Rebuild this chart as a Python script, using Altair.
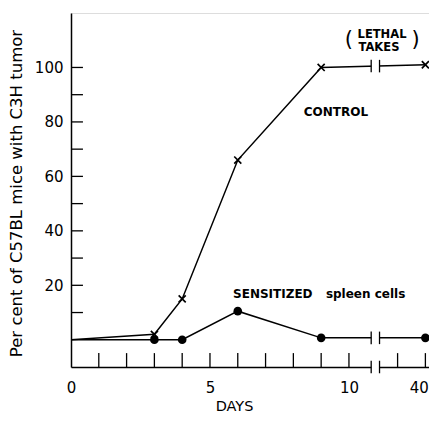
import altair as alt
import pandas as pd

# ---- data ----
control_days = [0, 3, 4, 6, 9, 40]
control_pct = [0, 2, 15, 66, 100, 101]
sens_days = [0, 3, 4, 6, 9, 40]
sens_pct = [0, 0, 0, 10.5, 0.7, 0.7]
x_tick_days = [1, 2, 3, 4, 5, 6, 7, 8, 9, 10, 39, 40]
x_label_days = [0, 5, 10, 40]
y_tick_vals = [10, 20, 30, 40, 50, 60, 70, 80, 90, 100]
y_label_vals = [20, 40, 60, 80, 100]
y_title = "Per cent of C57BL mice with C3H tumor"
x_title = "DAYS"

# ---- layout ----
SHIFT = 27.25          # days beyond the axis break are drawn shifted left
BREAK_L, BREAK_R = 10.8, 11.1
XMAX = 12.88
YMIN, YMAX = -10, 120
XT_LEN = 5.1           # x tick length in y units
YT_LEN = 0.43          # y tick length in x units
FONT = "DejaVu Sans"
POS = f"datum.day > 10 ? datum.day - {SHIFT} : datum.day"


def pos(d):
    return d if d <= 10 else d - SHIFT


xscale = alt.Scale(domain=[0, XMAX], nice=False, zero=False)
yscale = alt.Scale(domain=[YMIN, YMAX], nice=False, zero=False)

xaxis = alt.Axis(
    values=[pos(d) for d in x_label_days],
    labelExpr="datum.value > 11 ? '40' : format(datum.value, 'd')",
    labelAlign={"condition": {"test": "datum.value > 11", "value": "right"}, "value": "center"},
    labelOffset={"condition": {"test": "datum.value > 11", "value": 3}, "value": 0},
    ticks=False, domain=True, domainColor="black", domainWidth=1.5,
    grid=False, labelFont=FONT, labelFontSize=15, labelColor="black",
    labelPadding=13, labelFlush=False, zindex=0,
    title=x_title, titleFont=FONT, titleFontSize=14.5, titleFontWeight="normal",
    titleColor="black", titleX=163, titleY=39, titleBaseline="middle",
)
yaxis = alt.Axis(
    values=y_label_vals,
    ticks=False, domain=True, domainColor="black", domainWidth=1.5,
    grid=False, labelFont=FONT, labelFontSize=15, labelColor="black",
    labelPadding=8, labelFlush=False, zindex=0,
    title=y_title, titleFont=FONT, titleFontSize=16.5, titleFontWeight="normal",
    titleColor="black", titleX=-55, titleY=180, titleBaseline="middle",
)


def X(field=None, datum=None):
    if datum is not None:
        return alt.X(datum=datum, type="quantitative", scale=xscale, axis=xaxis)
    return alt.X(field, type="quantitative", scale=xscale, axis=xaxis)


def Y(field=None, datum=None):
    if datum is not None:
        return alt.Y(datum=datum, type="quantitative", scale=yscale, axis=yaxis)
    return alt.Y(field, type="quantitative", scale=yscale, axis=yaxis)


control_df = pd.DataFrame({"day": control_days, "pct": control_pct})
sens_df = pd.DataFrame({"day": sens_days, "pct": sens_pct})
xt_df = pd.DataFrame({"day": x_tick_days})
yt_df = pd.DataFrame({"v": y_tick_vals})
one = pd.DataFrame({"a": [0]})

xticks = alt.Chart(xt_df).transform_calculate(
    p=POS, y0=str(YMIN), y1=str(YMIN + XT_LEN)
).mark_rule(color="black", strokeWidth=1.3).encode(
    x=X("p:Q"), y=Y("y0:Q"), y2="y1:Q"
)

yticks = alt.Chart(yt_df).transform_calculate(
    x0="0", x1=str(YT_LEN)
).mark_rule(color="black", strokeWidth=1.3).encode(
    x=X("x0:Q"), x2="x1:Q", y=Y("v:Q")
)

ctrl_line = alt.Chart(control_df).transform_calculate(p=POS).mark_line(
    color="black", strokeWidth=1.5).encode(x=X("p:Q"), y=Y("pct:Q"))
sens_line = alt.Chart(sens_df).transform_calculate(p=POS).mark_line(
    color="black", strokeWidth=1.5).encode(x=X("p:Q"), y=Y("pct:Q"))

gap = alt.Chart(one).mark_rect(color="white").encode(
    x=X(datum=BREAK_L), x2=alt.X2(datum=BREAK_R),
    y=Y(datum=YMIN - 1.5), y2=alt.Y2(datum=103)
)

break_df = pd.DataFrame({"by": [YMIN, 0.7, 100.5]})
bars = []
for bx in (BREAK_L, BREAK_R):
    bars.append(
        alt.Chart(break_df).transform_calculate(
            b0="datum.by - 2.3", b1="datum.by + 2.3"
        ).mark_rule(color="black", strokeWidth=1.3).encode(
            x=X(datum=bx), y=Y("b0:Q"), y2="b1:Q"
        )
    )

ctrl_pts = alt.Chart(control_df).transform_filter("datum.day > 0").transform_calculate(
    p=POS).mark_point(shape="M-1,-1L1,1M1,-1L-1,1", filled=False, color="black",
                      strokeWidth=1.7, size=50, opacity=1).encode(
    x=X("p:Q"), y=Y("pct:Q"))
sens_pts = alt.Chart(sens_df).transform_filter("datum.day > 0").transform_calculate(
    p=POS).mark_point(shape="circle", filled=True, color="black",
                      size=75, opacity=1).encode(
    x=X("p:Q"), y=Y("pct:Q"))


def label(text, x, y, size=12, align="center", weight="bold"):
    return alt.Chart(one).mark_text(
        text=text, font=FONT, fontSize=size, fontWeight=weight,
        align=align, baseline="middle", color="black"
    ).encode(x=X(datum=x), y=Y(datum=y))


texts = [
    label("CONTROL", 9.53, 83.7),
    label("SENSITIZED", 5.83, 16.9, align="left"),
    label("spleen  cells", 9.17, 16.9, align="left"),
    label("LETHAL", 11.19, 112.0, size=11.5),
    label("TAKES", 11.08, 107.0, size=11.5),
    label("(", 10.0, 110.2, size=21, weight="normal"),
    label(")", 12.4, 110.2, size=21, weight="normal"),
]

chart = alt.layer(
    xticks, yticks, ctrl_line, sens_line, gap, *bars, ctrl_pts, sens_pts, *texts
).properties(
    width=358, height=354,
    autosize=alt.AutoSizeParams(type="none"),
    padding={"left": 63, "top": 5, "right": 0, "bottom": 49},
).configure_view(stroke=None).configure(background="white")

chart.save("out.html", embed_options={"renderer": "svg", "actions": False})
